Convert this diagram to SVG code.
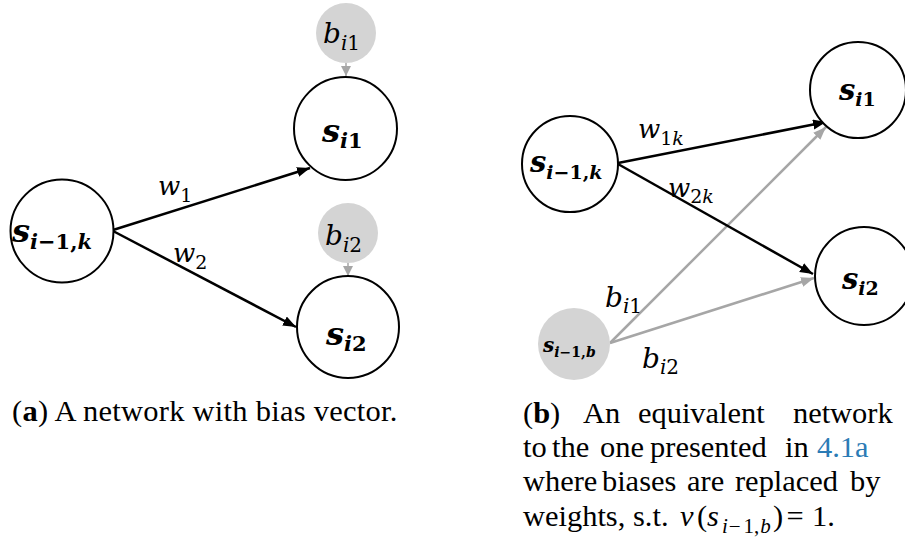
<svg xmlns="http://www.w3.org/2000/svg" width="905" height="545" viewBox="0 0 905 545">
<style>
.node{fill:#fff;stroke:#000;stroke-width:2}
.bias{fill:#d4d4d4;stroke:none}
.edge{fill:none;stroke:#000;stroke-width:2.5;marker-end:url(#ah)}
.gedge{fill:none;stroke:#a6a6a6;stroke-width:2.5;marker-end:url(#ahg)}
.gshort{fill:none;stroke:#a6a6a6;stroke-width:1.5;marker-end:url(#ahs)}
.m{font-family:"DejaVu Serif",serif;fill:#000}
.mb{font-family:"DejaVu Serif",serif;font-weight:bold;font-style:italic;fill:#000}
.it{font-style:italic}
.up{font-style:normal}
.cap{font-family:"Liberation Serif",serif;font-size:29px;fill:#000}
.link{fill:#2b7bb5}
</style>
<defs>
<marker id="ah" markerUnits="userSpaceOnUse" markerWidth="15" markerHeight="12" refX="13" refY="5" orient="auto"><path d="M0,0 L13,5 L0,10 z" fill="#000"/></marker>
<marker id="ahg" markerUnits="userSpaceOnUse" markerWidth="15" markerHeight="12" refX="13" refY="5" orient="auto"><path d="M0,0 L13,5 L0,10 z" fill="#a6a6a6"/></marker>
<marker id="ahs" markerUnits="userSpaceOnUse" markerWidth="12" markerHeight="12" refX="10" refY="5" orient="auto"><path d="M0,0 L10,5 L0,10 z" fill="#a6a6a6"/></marker>
</defs>

<g id="connectors">
<line class="edge" x1="113" y1="230" x2="310" y2="168"/>
<line class="edge" x1="113" y1="231" x2="296" y2="327"/>
<line class="gshort" x1="346" y1="63" x2="346" y2="76"/>
<line class="gshort" x1="348" y1="263" x2="348" y2="276"/>
<line class="gedge" x1="610" y1="343" x2="826" y2="127"/>
<line class="gedge" x1="610" y1="343" x2="814" y2="278"/>
<line class="edge" x1="618" y1="163" x2="826" y2="122"/>
<line class="edge" x1="618" y1="164" x2="813" y2="274"/>
</g>

<g id="a-sprev">
<circle class="node" cx="62" cy="231" r="51.5"/>
<text class="mb" x="12" y="242" font-size="32">s<tspan y="249" font-size="21">i<tspan class="up">−1,</tspan>k</tspan></text>
</g>
<g id="a-si1">
<circle class="node" cx="345.5" cy="128.5" r="51.5"/>
<text class="mb" x="322" y="142" font-size="32">s<tspan y="148" font-size="21">i<tspan class="up">1</tspan></tspan></text>
</g>
<g id="a-si2">
<circle class="node" cx="348" cy="327" r="51"/>
<text class="mb" x="326" y="345" font-size="32">s<tspan y="351" font-size="21">i<tspan class="up">2</tspan></tspan></text>
</g>
<g id="a-bi1">
<circle class="bias" cx="346" cy="33" r="30"/>
<text class="m it" x="323" y="43" font-size="28">b<tspan y="50" font-size="20">i<tspan class="up">1</tspan></tspan></text>
</g>
<g id="a-bi2">
<circle class="bias" cx="348" cy="233" r="30"/>
<text class="m it" x="325" y="245" font-size="28">b<tspan y="252" font-size="20">i<tspan class="up">2</tspan></tspan></text>
</g>
<g id="a-labels">
<text class="m it" x="158" y="195" font-size="26">w<tspan class="up" y="202" font-size="19">1</tspan></text>
<text class="m it" x="173" y="262" font-size="26">w<tspan class="up" y="269" font-size="19">2</tspan></text>
</g>

<g id="b-sprev">
<circle class="node" cx="570" cy="164" r="48"/>
<text class="mb" x="530" y="172" font-size="29">s<tspan y="179" font-size="19">i<tspan class="up">−1,</tspan>k</tspan></text>
</g>
<g id="b-si1">
<circle class="node" cx="858" cy="90" r="48"/>
<text class="mb" x="839" y="100" font-size="29">s<tspan y="106" font-size="19">i<tspan class="up">1</tspan></tspan></text>
</g>
<g id="b-si2">
<circle class="node" cx="864" cy="276" r="49"/>
<text class="mb" x="842" y="289" font-size="29">s<tspan y="295" font-size="19">i<tspan class="up">2</tspan></tspan></text>
</g>
<g id="b-sb">
<circle class="bias" cx="574" cy="344" r="36"/>
<text class="mb" x="543" y="352" font-size="20">s<tspan y="357" font-size="14">i<tspan class="up">−1,</tspan>b</tspan></text>
</g>
<g id="b-labels">
<text class="m it" x="638" y="138" font-size="26">w<tspan y="145" font-size="19"><tspan class="up">1</tspan>k</tspan></text>
<text class="m it" x="668" y="197" font-size="26">w<tspan y="203" font-size="19"><tspan class="up">2</tspan>k</tspan></text>
<text class="m it" x="605" y="307" font-size="28">b<tspan y="313" font-size="20">i<tspan class="up">1</tspan></tspan></text>
<text class="m it" x="642" y="368" font-size="28">b<tspan y="374" font-size="20">i<tspan class="up">2</tspan></tspan></text>
</g>

<g id="caption-a" transform="translate(12,0) scale(1.05,1)">
<text class="cap" x="0" y="421" textLength="367" lengthAdjust="spacing"><tspan>(</tspan><tspan font-weight="bold">a</tspan><tspan>)</tspan> A network with bias vector.</text>
</g>

<g id="caption-b" transform="translate(523,0) scale(1.05,1)">
<text class="cap" y="423"><tspan x="0">(<tspan font-weight="bold">b</tspan>)</tspan><tspan x="57.1">An</tspan><tspan x="109.5">equivalent</tspan><tspan x="257.1">network</tspan></text>
<text class="cap" y="457"><tspan x="0">to</tspan><tspan x="27.6">the</tspan><tspan x="73.3">one</tspan><tspan x="121">presented</tspan><tspan x="249.5">in</tspan><tspan x="280" class="link">4.1a</tspan></text>
<text class="cap" y="491"><tspan x="0">where</tspan><tspan x="75.2">biases</tspan><tspan x="156.2">are</tspan><tspan x="201.9">replaced</tspan><tspan x="311.4">by</tspan></text>
<text class="cap" y="526"><tspan x="0">weights,</tspan><tspan x="104.8">s.t.</tspan><tspan x="149.5" class="it">v</tspan><tspan x="165.7">(</tspan><tspan x="175.2" class="it">s</tspan><tspan x="189.5" y="533" font-size="20" class="it">i</tspan><tspan x="196" y="533" font-size="20">−</tspan><tspan x="210" y="533" font-size="20">1,</tspan><tspan x="226" y="533" font-size="20" class="it">b</tspan><tspan x="238.1" y="526">)</tspan><tspan x="251">=</tspan><tspan x="275.2">1.</tspan></text>
</g>
</svg>
